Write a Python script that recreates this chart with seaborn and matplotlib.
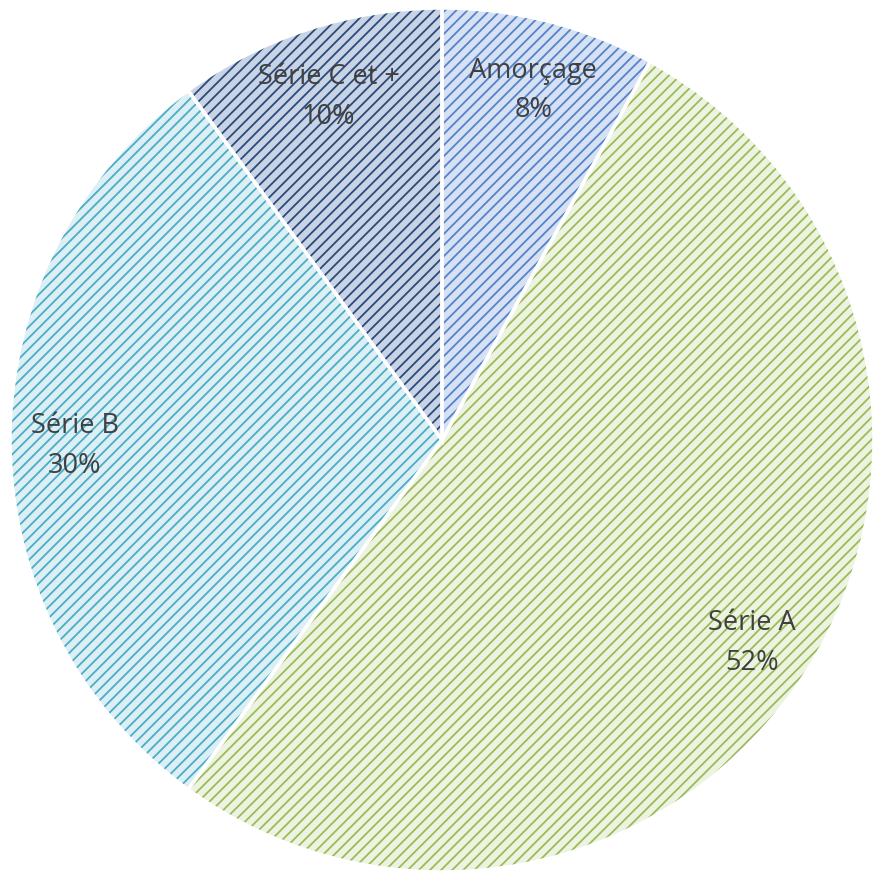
import matplotlib
matplotlib.use("Agg")
import matplotlib.pyplot as plt
import seaborn as sns

sns.set_theme(style="white")
plt.rcParams["font.family"] = ["Open Sans", "DejaVu Sans"]
plt.rcParams["hatch.linewidth"] = 1.3

# data
stages = ["Amorçage", "Série A", "Série B", "Série C et +"]
shares = [8, 52, 30, 10]
face_colors = ["#D6E2F4", "#EDF3E1", "#DCEFF5", "#C8D4E6"]
hatch_colors = ["#5582C9", "#9BBB59", "#4BACC6", "#2B4A7A"]

labels = [f"{s}\n{v}%" for s, v in zip(stages, shares)]

fig = plt.figure(figsize=(8.74, 8.80), dpi=100)
ax = fig.add_axes([0, 0, 1, 1])

cx, cy, r = 442, 440, 432

# base fill
ax.pie(shares, colors=face_colors, startangle=90, counterclock=False,
       radius=r, center=(cx, cy),
       wedgeprops=dict(linewidth=0))

# hatch layer
wedges, _ = ax.pie(shares, startangle=90, counterclock=False,
                   radius=r, center=(cx, cy),
                   wedgeprops=dict(facecolor="none", linewidth=0))
for w, hc in zip(wedges, hatch_colors):
    w.set_hatch("///")
    w.set_edgecolor(hc)
    w.set_linewidth(0)

# white borders + labels
texts = ax.pie(shares, labels=labels, startangle=90, counterclock=False,
               radius=r, center=(cx, cy), labeldistance=0.85,
               wedgeprops=dict(facecolor="none", edgecolor="white", linewidth=2.5),
               textprops=dict(ha="center", va="center", fontsize=19.5,
                              color="#404040", linespacing=1.55))[1]
# nudge labels down a bit, like the office-style rendering
for t in texts:
    x, y = t.get_position()
    t.set_position((x, y - 6))

ax.set_xlim(0, 874)
ax.set_ylim(0, 880)
ax.set_aspect("equal")
ax.axis("off")

fig.savefig("out.png", dpi=100, facecolor="white")
